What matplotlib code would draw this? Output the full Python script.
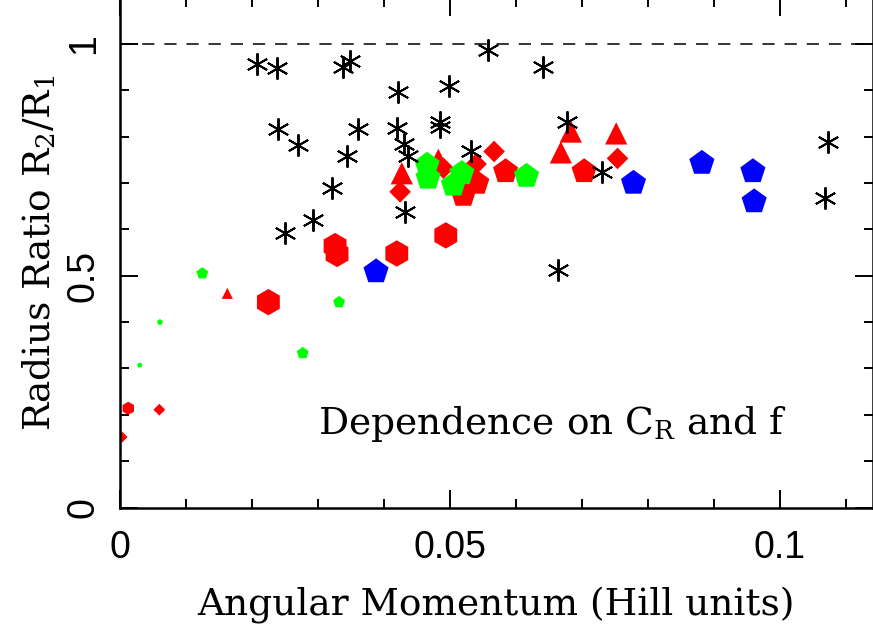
import numpy as np
import matplotlib
matplotlib.use("Agg")
import matplotlib.pyplot as plt
from matplotlib.ticker import MultipleLocator

plt.rcParams['mathtext.fontset'] = 'dejavuserif'

# black asterisks
ast_x = [0.02076, 0.02388, 0.03379, 0.03489, 0.02398, 0.02697, 0.03611, 0.03439,
         0.03217, 0.02933, 0.02505, 0.04217, 0.04202, 0.05585, 0.06409, 0.04994,
         0.04853, 0.04853, 0.06777, 0.05323, 0.07308, 0.04323, 0.04308, 0.04361,
         0.10721, 0.10686, 0.06641]
ast_y = [0.956, 0.948, 0.950, 0.964, 0.816, 0.782, 0.816, 0.759,
         0.689, 0.620, 0.592, 0.896, 0.818, 0.987, 0.951, 0.910,
         0.831, 0.820, 0.832, 0.768, 0.723, 0.638, 0.784, 0.758,
         0.789, 0.667, 0.512]

# red runs, by symbol
red_dia_x = [0.0003, 0.0060, 0.04247, 0.04903, 0.05398, 0.05671, 0.07540]
red_dia_y = [0.152, 0.211, 0.681, 0.732, 0.741, 0.768, 0.753]
red_dia_s = [6, 6, 11, 11, 11, 11, 11]

red_tri_x = [0.0163, 0.04273, 0.04827, 0.06682, 0.06833, 0.07520]
red_tri_y = [0.462, 0.721, 0.750, 0.766, 0.811, 0.807]
red_tri_s = [8, 16, 16, 16, 16, 16]

red_pen_x = [0.05409, 0.05206, 0.05845, 0.07035]
red_pen_y = [0.700, 0.674, 0.725, 0.725]
red_pen_s = [19, 19, 19, 19]

red_hex_x = [0.0013, 0.02252, 0.03262, 0.03292, 0.04197, 0.04939]
red_hex_y = [0.214, 0.443, 0.564, 0.547, 0.548, 0.587]
red_hex_s = [9.5, 19, 19, 19, 19, 19]

# green runs
grn_x = [0.00303, 0.0061, 0.01252, 0.02773, 0.03323,
         0.04656, 0.04671, 0.05182, 0.05055, 0.06162]
grn_y = [0.307, 0.400, 0.505, 0.333, 0.443,
         0.739, 0.711, 0.721, 0.696, 0.715]
grn_s = [4, 4.5, 9, 9, 9, 19, 19, 19, 19, 19]

# blue runs
blu_x = [0.03883, 0.07782, 0.08818, 0.09591, 0.09610]
blu_y = [0.509, 0.700, 0.743, 0.725, 0.660]
blu_s = [19, 19, 19, 19, 19]

W, H = 873, 638
fig = plt.figure(figsize=(W / 100, H / 100), dpi=100)
x0, y0 = 119.7 / W, (H - 507.5) / H
ax = fig.add_axes([x0, y0, 1.0 - x0, (H + 2.4) / H - y0])

ax.axhline(1.0, color='k', lw=1.1, dashes=(8, 6.5), zorder=1)

ax.scatter(red_dia_x, red_dia_y, s=np.array(red_dia_s) ** 2, marker='D', c='#ff0000', lw=0, zorder=2)
ax.scatter(red_tri_x, red_tri_y, s=np.array(red_tri_s) ** 2, marker='^', c='#ff0000', lw=0, zorder=2)
ax.scatter(red_pen_x, red_pen_y, s=np.array(red_pen_s) ** 2, marker='p', c='#ff0000', lw=0, zorder=2)
ax.scatter(red_hex_x, red_hex_y, s=np.array(red_hex_s) ** 2, marker='h', c='#ff0000', lw=0, zorder=2)
ax.scatter(grn_x, grn_y, s=np.array(grn_s) ** 2, marker='p', c='#00ff00', lw=0, zorder=3)
ax.scatter(blu_x, blu_y, s=np.array(blu_s) ** 2, marker='p', c='#0000ff', lw=0, zorder=3)
ax.plot(ast_x, ast_y, ls='none', marker=(6, 2, 0), ms=16, mec='k', mew=1.4, zorder=4)

ax.set_xlim(0, 0.1141)
ax.set_ylim(0, 1.1)
ax.xaxis.set_minor_locator(MultipleLocator(0.01))
ax.yaxis.set_minor_locator(MultipleLocator(0.1))
ax.set_xticks([0, 0.05, 0.1])
ax.set_xticklabels(['0', '0.05', '0.1'])
ax.set_yticks([0, 0.5, 1])
ax.set_yticklabels(['0', '0.5', '1'], rotation=90, va='center')
for s in ax.spines.values():
    s.set_linewidth(1.8)
ax.tick_params(which='both', direction='in', top=True, right=True, width=1.4)
ax.tick_params(which='major', length=13)
ax.tick_params(which='minor', length=6.5)
ax.tick_params(axis='x', pad=16)
ax.tick_params(axis='y', pad=13)
for lab in ax.get_xticklabels() + ax.get_yticklabels():
    lab.set_family('Liberation Sans')
    lab.set_fontsize(27)

ax.set_xlabel('Angular Momentum (Hill units)', family='DejaVu Serif', fontsize=27, labelpad=15)
ax.set_ylabel(r'Radius Ratio R$_2$/R$_1$', family='DejaVu Serif', fontsize=27, labelpad=5)
ax.text(0.0301, 0.158, r'Dependence on C$_\mathrm{R}$ and f', family='DejaVu Serif', fontsize=27)

fig.savefig('out.png', dpi=100)
